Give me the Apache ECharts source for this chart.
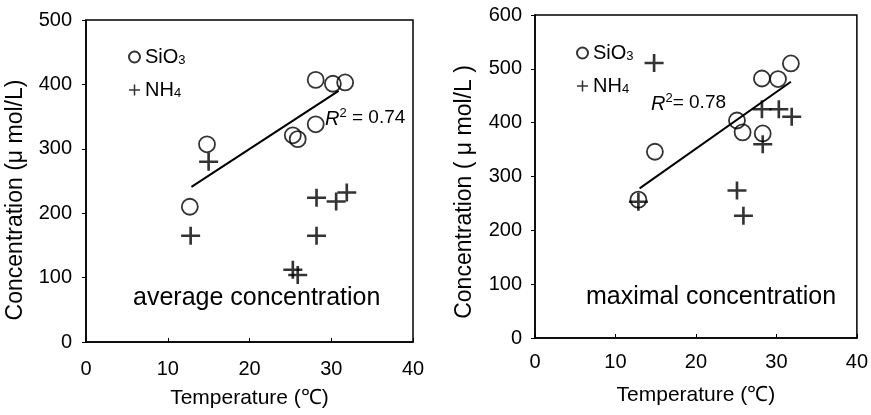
<!DOCTYPE html>
<html>
<head>
<meta charset="utf-8">
<script src="https://cdn.jsdelivr.net/npm/echarts@6/dist/echarts.min.js"></script>
<style>
html,body{margin:0;padding:0;background:#fff;}
#c{width:871px;height:415px;}
</style>
</head>
<body>
<div id="c"></div>
<script>
// ---- data ----
const legendNames = ['SiO3', 'NH4'];
const xTicks = [0, 10, 20, 30, 40];
const yTicksAvg = [0, 100, 200, 300, 400, 500];
const yTicksMax = [0, 100, 200, 300, 400, 500, 600];
const xTitle = 'Temperature (\u2103)';
const yTitles = ['Concentration (\u03bc mol/L)', 'Concentration ( \u03bc mol/L )'];
const panelLabels = ['average concentration', 'maximal concentration'];

// average concentration panel
const tempAvgSi = [12.7, 14.8, 25.3, 25.9, 28.1, 28.1, 30.2, 31.7];
const siAvg     = [210, 307, 321, 315, 338, 407, 401, 403];
const tempAvgNH = [12.8, 15.0, 25.3, 25.9, 28.2, 28.2, 30.6, 31.9];
const nhAvg     = [165, 280, 112, 104, 165, 224, 218, 232];
const trendAvgT = [12.9, 30.9];
const trendAvgC = [241, 390];
const r2Avg = '0.74';

// maximal concentration panel
const tempMaxSi = [12.85, 14.9, 25.1, 25.8, 28.2, 28.3, 30.2, 31.8];
const siMax     = [257, 346, 404, 382, 482, 380, 481, 510];
const tempMaxNH = [12.85, 14.8, 25.1, 25.9, 28.2, 28.3, 30.3, 31.9];
const nhMax     = [253, 511, 274, 227, 425, 360, 425, 411];
const trendMaxT = [13.0, 31.8];
const trendMaxC = [278, 476];
const r2Max = '0.78';

// ---- helpers ----
const zip = (a, b) => a.map((v, i) => [v, b[i]]);
const FONT = '"Liberation Sans", Arial, Helvetica, sans-serif';
const INK = '#000';
const PLUS = 'path://M7.75,0h2.5v7.75h7.75v2.5h-7.75v7.75h-2.5v-7.75h-7.75v-2.5h7.75z';

function xAxisCfg(gridIndex, margin, gap) {
  return {
    gridIndex, type: 'value', min: xTicks[0], max: xTicks[xTicks.length - 1], interval: 10,
    name: xTitle, nameLocation: 'middle', nameGap: gap,
    nameTextStyle: { fontFamily: FONT, fontSize: 21, color: INK },
    axisLine: { show: true, onZero: false, lineStyle: { color: INK, width: 1.5 } },
    axisTick: { show: true, inside: true, length: 4, lineStyle: { color: INK } },
    axisLabel: { fontFamily: FONT, fontSize: 20, color: INK, margin: margin },
    splitLine: { show: false }
  };
}
function yAxisCfg(gridIndex, ticks, margin) {
  return {
    gridIndex, type: 'value', min: ticks[0], max: ticks[ticks.length - 1], interval: 100,
    axisLine: { show: true, onZero: false, lineStyle: { color: INK, width: 1.5 } },
    axisTick: { show: true, inside: false, length: 4, lineStyle: { color: INK } },
    axisLabel: { fontFamily: FONT, fontSize: 20, color: INK, margin: margin },
    splitLine: { show: false }
  };
}
const circleStyle = { color: 'transparent', borderColor: INK, borderWidth: 1.8 };
const plusStyle = { color: INK };

function legendCfg(left, top) {
  return {
    orient: 'vertical', left, top, itemGap: 13, itemWidth: 11, itemHeight: 11,
    data: legendNames,
    selectedMode: false,
    formatter: n => n.replace(/(\d)$/, '{s|$1}'),
    textStyle: {
      fontFamily: FONT, fontSize: 20, color: INK, lineHeight: 20,
      rich: { s: { fontFamily: FONT, fontSize: 13, lineHeight: 13, verticalAlign: 'bottom', color: INK } }
    }
  };
}

function r2Text(x, y, val, eq) {
  return {
    type: 'text', x, y,
    style: {
      text: '{i|R}{p|2}' + eq + val,
      fontFamily: FONT, fontSize: 19, fill: INK, verticalAlign: 'middle',
      rich: {
        i: { fontFamily: FONT, fontSize: 20, fontStyle: 'italic', fill: INK, lineHeight: 22, verticalAlign: 'bottom' },
        p: { fontFamily: FONT, fontSize: 13, fill: INK, lineHeight: 22, verticalAlign: 'top' }
      }
    }
  };
}
function yTitle(x, y, text) {
  return {
    type: 'text', x, y, rotation: Math.PI / 2,
    style: { text, fontFamily: FONT, fontSize: 23, fill: INK, align: 'center', verticalAlign: 'middle' }
  };
}

const option = {
  backgroundColor: '#fff',
  animation: false,
  grid: [
    { left: 86, top: 20, width: 327, height: 322, show: true, borderColor: INK, borderWidth: 1.5, backgroundColor: 'transparent' },
    { left: 535, top: 15, width: 323, height: 323, show: true, borderColor: INK, borderWidth: 1.5, backgroundColor: 'transparent' }
  ],
  xAxis: [xAxisCfg(0, 17, 46), xAxisCfg(1, 14, 47)],
  yAxis: [yAxisCfg(0, yTicksAvg, 14), yAxisCfg(1, yTicksMax, 13)],
  legend: [legendCfg(123, 42), legendCfg(571, 38)],
  series: [
    { name: legendNames[0], type: 'scatter', xAxisIndex: 0, yAxisIndex: 0, symbol: 'circle', symbolSize: 16,
      itemStyle: circleStyle, data: zip(tempAvgSi, siAvg), z: 3 },
    { name: legendNames[1], type: 'scatter', xAxisIndex: 0, yAxisIndex: 0, symbol: PLUS, symbolSize: [19, 18],
      itemStyle: plusStyle, data: zip(tempAvgNH, nhAvg), z: 3 },
    { name: 'trendAvg', type: 'line', xAxisIndex: 0, yAxisIndex: 0, showSymbol: false, symbol: 'none',
      lineStyle: { color: INK, width: 2 }, data: zip(trendAvgT, trendAvgC), z: 2 },
    { name: legendNames[0], type: 'scatter', xAxisIndex: 1, yAxisIndex: 1, symbol: 'circle', symbolSize: 16,
      itemStyle: circleStyle, data: zip(tempMaxSi, siMax), z: 3 },
    { name: legendNames[1], type: 'scatter', xAxisIndex: 1, yAxisIndex: 1, symbol: PLUS, symbolSize: [19, 18],
      itemStyle: plusStyle, data: zip(tempMaxNH, nhMax), z: 3 },
    { name: 'trendMax', type: 'line', xAxisIndex: 1, yAxisIndex: 1, showSymbol: false, symbol: 'none',
      lineStyle: { color: INK, width: 2 }, data: zip(trendMaxT, trendMaxC), z: 2 }
  ],
  graphic: [
    yTitle(16, 200, yTitles[0]),
    yTitle(465, 192, yTitles[1]),
    r2Text(325, 118, r2Avg, ' = '),
    r2Text(651, 103, r2Max, '= '),
    { type: 'text', x: 133, y: 298, style: { text: panelLabels[0], fontFamily: FONT, fontSize: 25, fill: INK, verticalAlign: 'middle' } },
    { type: 'text', x: 586, y: 297, style: { text: panelLabels[1], fontFamily: FONT, fontSize: 25, fill: INK, verticalAlign: 'middle' } }
  ]
};

const chart = echarts.init(document.getElementById('c'), null, { renderer: 'canvas' });
chart.setOption(option);
</script>
</body>
</html>
